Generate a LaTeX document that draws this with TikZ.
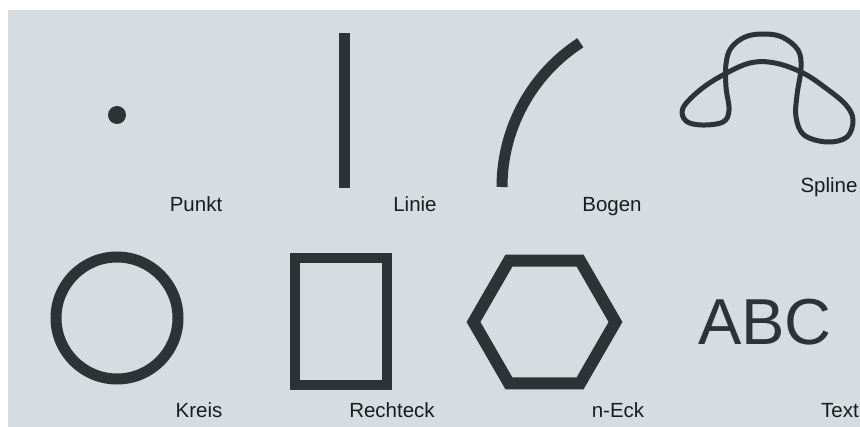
\documentclass[tikz,border=0pt]{standalone}
\usepackage{fontspec}
\setmainfont{Liberation Sans}
\usepackage{tikz}
\usetikzlibrary{positioning}
\definecolor{paper}{HTML}{D6DCDF}
\definecolor{ink}{HTML}{2E3336}
\definecolor{textink}{HTML}{1A1C1E}
\tikzset{
  thickline/.style={draw=ink, line width=11pt},
  thinline/.style={draw=ink, line width=5pt, line join=round},
  lbl/.style={anchor=base, inner sep=0pt, text=textink,
    font=\fontsize{20.5}{22}\selectfont}
}

\begin{document}
\begin{tikzpicture}[x=1pt, y=-1pt]
  \useasboundingbox (0,0) rectangle (860,427);
  \fill[paper] (8,10) rectangle (860,427);
  % obere Reihe
  \fill[ink] (117,115) circle[radius=9];
  \node[lbl] (punkt) at (196,212) {Punkt};
  \draw[thickline, line width=10.5pt] (344.5,33) -- (344.5,188);
  \node[lbl] (linie) at (415,212) {Linie};
  \draw[thickline] (502,187) arc[start angle=180, end angle=237, radius=172];
  \node[lbl] (bogen) at (612,212) {Bogen};
  \draw[thinline] plot[smooth cycle, tension=0.6] coordinates {
    (782,37) (798,50) (801,68) (797,95) (796,117) (804,135) (827,142)
    (847,137) (853,120) (846,105) (827,89) (803,73) (775,63) (750,63)
    (723,75) (700,90) (683,108) (686,121) (702,125) (723,122) (729,110)
    (726,87) (726,64) (731,48) (745,37) (763,34)};
  \node[lbl] (spline) at (829,193) {Spline};
  % untere Reihe
  \draw[thickline] (117,318) circle[radius=61];
  \node[lbl] (kreis) at (199,418) {Kreis};
  \draw[thickline, line width=10pt] (295,258) rectangle (387,385);
  \node[lbl] (rechteck) at (392,418) {Rechteck};
  \draw[thickline, line width=12pt] (544.5,322) ++(0:71) -- ++(120:71) -- ++(180:71)
    -- ++(240:71) -- ++(300:71) -- ++(0:71) -- cycle;
  \node[lbl] (neck) at (618,418) {n-Eck};
  \node[lbl, text=ink, font=\fontsize{65}{65}\selectfont] (abc) at (765,345) {ABC};
  \node[lbl] (text) at (840,418) {Text};
\end{tikzpicture}
\end{document}
